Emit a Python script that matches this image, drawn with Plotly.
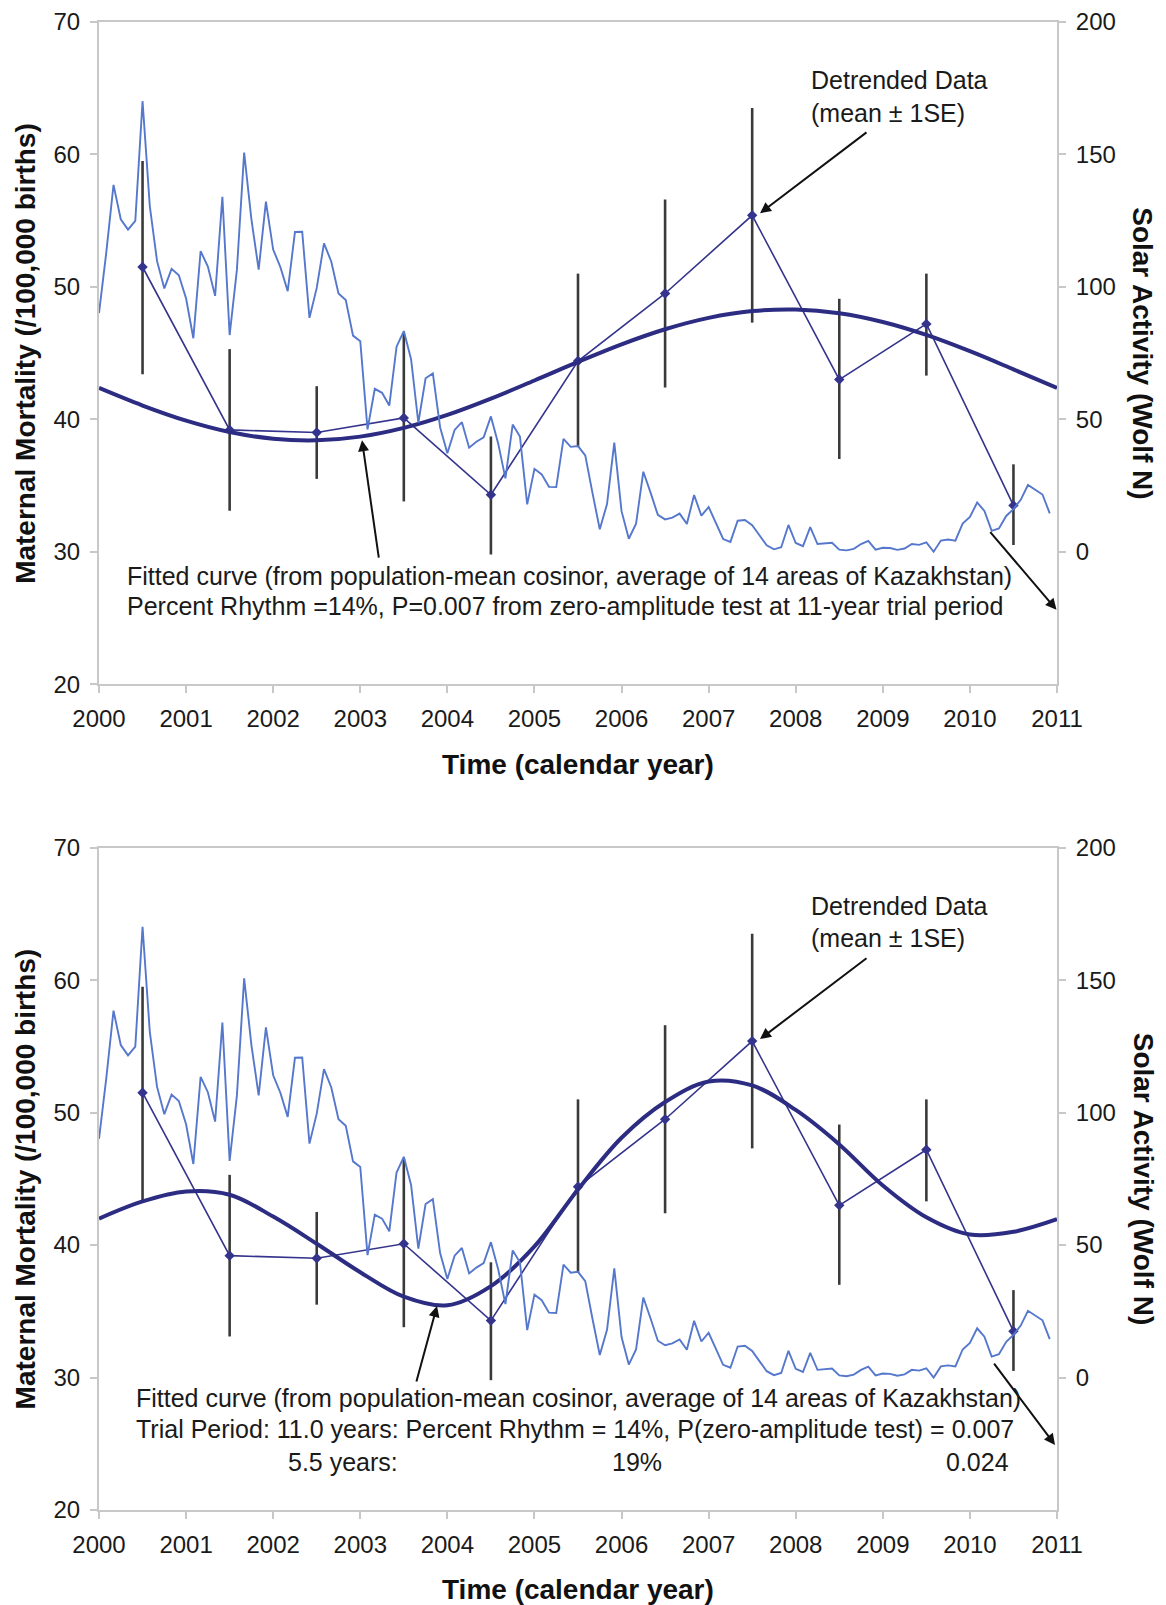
import plotly.graph_objects as go

# ---------------- data ----------------
# Monthly solar activity (Wolf number), Jan 2000 .. Dec 2010
wolf_2000 = [90.1, 112.9, 138.5, 125.5, 121.6, 124.9, 170.1, 130.5, 109.7, 99.4, 106.8, 104.4]
wolf_2001 = [95.6, 80.6, 113.5, 107.7, 96.6, 134.0, 81.8, 106.4, 150.7, 125.5, 106.5, 132.2]
wolf_2002 = [114.1, 107.4, 98.4, 120.7, 120.8, 88.3, 99.6, 116.4, 109.6, 97.5, 95.0, 81.6]
wolf_2003 = [79.5, 46.2, 61.5, 60.0, 55.2, 77.4, 83.3, 72.7, 48.7, 65.5, 67.3, 47.0]
wolf_2004 = [37.2, 46.0, 48.9, 39.3, 41.5, 43.2, 51.1, 40.9, 27.7, 48.0, 43.5, 17.9]
wolf_2005 = [31.3, 29.2, 24.5, 24.4, 42.6, 39.6, 39.9, 36.4, 22.1, 8.5, 18.0, 41.2]
wolf_2006 = [15.3, 4.9, 10.6, 30.2, 22.3, 13.9, 12.2, 12.9, 14.4, 10.5, 21.4, 13.6]
wolf_2007 = [16.9, 10.6, 4.8, 3.7, 11.7, 12.0, 10.0, 6.2, 2.4, 0.9, 1.7, 10.1]
wolf_2008 = [3.3, 2.1, 9.3, 2.9, 3.2, 3.4, 0.8, 0.5, 1.1, 2.9, 4.1, 0.8]
wolf_2009 = [1.5, 1.4, 0.7, 1.2, 2.9, 2.6, 3.5, 0.0, 4.2, 4.6, 4.2, 10.6]
wolf_2010 = [13.1, 18.6, 15.4, 7.9, 8.8, 13.5, 16.1, 19.6, 25.2, 23.5, 21.6, 14.5]
wolf_years = [2000, 2001, 2002, 2003, 2004, 2005, 2006, 2007, 2008, 2009, 2010]
wolf_by_year = [wolf_2000, wolf_2001, wolf_2002, wolf_2003, wolf_2004, wolf_2005,
                wolf_2006, wolf_2007, wolf_2008, wolf_2009, wolf_2010]

# Detrended maternal mortality (mean +/- 1SE), mid-year
mm_years = [2000.5, 2001.5, 2002.5, 2003.5, 2004.5, 2005.5, 2006.5, 2007.5, 2008.5, 2009.5, 2010.5]
mm_mean = [51.5, 39.2, 39.0, 40.1, 34.3, 44.4, 49.5, 55.4, 43.0, 47.2, 33.5]
mm_upper = [59.5, 45.3, 42.5, 46.5, 38.7, 51.0, 56.6, 63.5, 49.1, 51.0, 36.6]
mm_lower = [43.4, 33.1, 35.5, 33.8, 29.8, 37.9, 42.4, 47.3, 37.0, 43.3, 30.5]

# Fitted curves every half year
fit_t = [2000.0, 2000.5, 2001.0, 2001.5, 2002.0, 2002.5, 2003.0, 2003.5, 2004.0, 2004.5,
         2005.0, 2005.5, 2006.0, 2006.5, 2007.0, 2007.5, 2008.0, 2008.5, 2009.0, 2009.5,
         2010.0, 2010.5, 2011.0]
fit_11y = [42.37, 41.04, 39.90, 39.04, 38.53, 38.41, 38.69, 39.35, 40.33, 41.56,
           42.93, 44.33, 45.66, 46.80, 47.66, 48.17, 48.29, 48.01, 47.35, 46.37,
           45.14, 43.77, 42.37]
fit_11y_55y = [42.0, 43.3, 44.05, 43.8, 42.15, 40.1, 37.95, 36.1, 35.45, 36.9,
               39.9, 44.2, 48.1, 50.8, 52.35, 52.05, 50.2, 47.6, 44.5, 42.1,
               40.8, 41.0, 41.95]

x_ticks = [2000, 2001, 2002, 2003, 2004, 2005, 2006, 2007, 2008, 2009, 2010, 2011]
left_ticks = [20, 30, 40, 50, 60, 70]
right_ticks = [0, 50, 100, 150, 200]

# ---------------- derived ----------------
wolf_t = []
wolf_v = []
for yr, vals in zip(wolf_years, wolf_by_year):
    for m, v in enumerate(vals):
        wolf_t.append(yr + m / 12.0)
        wolf_v.append(v)
err_plus = [u - m for u, m in zip(mm_upper, mm_mean)]
err_minus = [m - l for m, l in zip(mm_mean, mm_lower)]

FONT = "Liberation Sans, Arial, sans-serif"
BLUE = "#5577cc"
NAVY = "#34348c"
FIT = "#2c2c82"
AXC = "#c8c8c8"

fig = go.Figure()

def add_panel(xa, yl, yr, fit_vals):
    fig.add_trace(go.Scatter(x=wolf_t, y=wolf_v, xaxis=xa, yaxis=yr, mode="lines",
                             line=dict(color=BLUE, width=1.9), showlegend=False,
                             name="Solar Activity"))
    fig.add_trace(go.Scatter(x=mm_years, y=mm_mean, xaxis=xa, yaxis=yl, mode="lines+markers",
                             line=dict(color=NAVY, width=1.6),
                             marker=dict(symbol="diamond", size=8, color=NAVY),
                             error_y=dict(type="data", array=err_plus, arrayminus=err_minus,
                                          color="#3a3a3a", thickness=2.6, width=0),
                             showlegend=False, name="Detrended Data"))
    fig.add_trace(go.Scatter(x=fit_t, y=fit_vals, xaxis=xa, yaxis=yl, mode="lines",
                             line=dict(color=FIT, width=4, shape="spline", smoothing=1.0),
                             showlegend=False, name="Fitted curve"))

add_panel("x", "y", "y2", fit_11y)
add_panel("x2", "y3", "y4", fit_11y_55y)

tickfont = dict(family=FONT, size=24, color="#1a1a1a")

def xaxis_cfg(anchor):
    return dict(range=[2000, 2011], tickvals=x_ticks, ticks="outside", ticklen=7,
                tickcolor=AXC, tickwidth=2, showline=True, linecolor=AXC, linewidth=2,
                mirror=True, showgrid=False, zeroline=False, tickfont=tickfont,
                anchor=anchor, domain=[0, 1], ticklabelstandoff=5, automargin=False)

def yleft_cfg(domain, anchor):
    return dict(range=[20, 70], tickvals=left_ticks, ticks="outside", ticklen=7,
                tickcolor=AXC, tickwidth=2, showline=True, linecolor=AXC, linewidth=2,
                showgrid=False, zeroline=False, tickfont=tickfont, domain=domain,
                anchor=anchor, ticklabelstandoff=5, automargin=False)

def yright_cfg(over, anchor):
    return dict(range=[-50, 200], tickvals=right_ticks, ticks="outside", ticklen=7,
                tickcolor=AXC, tickwidth=2, showline=True, linecolor=AXC, linewidth=2,
                showgrid=False, zeroline=False, tickfont=tickfont, overlaying=over,
                side="right", anchor=anchor, ticklabelstandoff=5, automargin=False)

top_dom = [0.555, 1.0]
bot_dom = [0.0, 0.4451]

# the page body has an 8px default margin: size the figure to end at the window edge
fig.update_layout(
    width=1158, height=1597,
    margin=dict(l=91, r=109, t=14, b=95, autoexpand=False),
    paper_bgcolor="white", plot_bgcolor="white",
    font=dict(family=FONT, size=24, color="#1a1a1a"),
    xaxis=xaxis_cfg("y"),
    yaxis=yleft_cfg(top_dom, "x"),
    yaxis2=yright_cfg("y", "x"),
    xaxis2=xaxis_cfg("y3"),
    yaxis3=yleft_cfg(bot_dom, "x2"),
    yaxis4=yright_cfg("y3", "x2"),
)

ann = []
tfont = dict(family=FONT, size=25, color="#1a1a1a")
title_font = dict(family=FONT, size=28, color="#111111")

# axis titles
for yc, xt in [(0.7774, 0.50125), (0.2226, -0.05375)]:
    ann.append(dict(xref="paper", yref="paper", x=-0.0766, y=yc, showarrow=False,
                    text="<b>Maternal Mortality (/100,000 births)</b>", textangle=-90,
                    font=title_font, xanchor="center", yanchor="middle"))
    ann.append(dict(xref="paper", yref="paper", x=1.0898, y=yc, showarrow=False,
                    text="<b>Solar Activity (Wolf N)</b>", textangle=90,
                    font=title_font, xanchor="center", yanchor="middle"))
    ann.append(dict(xref="paper", yref="paper", x=0.5, y=xt, showarrow=False,
                    text="<b>Time (calendar year)</b>",
                    font=title_font, xanchor="center", yanchor="middle"))

def txt(xr, yr, x, y, s, xanchor="left"):
    ann.append(dict(xref=xr, yref=yr, x=x, y=y, text=s, showarrow=False, font=tfont,
                    xanchor=xanchor, yanchor="middle"))

def arrow(xr, yr, x, y, ax, ay):
    ann.append(dict(xref=xr, yref=yr, axref=xr, ayref=yr, x=x, y=y, ax=ax, ay=ay,
                    text="", showarrow=True, arrowhead=2, arrowsize=1.1,
                    arrowwidth=2, arrowcolor="#111111"))

# top panel
txt("x", "y", 2008.152, 65.60, "Detrended Data")
txt("x", "y", 2008.152, 63.11, "(mean ± 1SE)")
arrow("x", "y", 2007.59, 55.56, 2008.83, 61.75)
arrow("x", "y", 2003.02, 38.42, 2003.215, 29.44)
arrow("x", "y", 2010.994, 25.62, 2010.219, 31.59)
txt("x", "y", 2000.299, 28.15,
    "Fitted curve (from population-mean cosinor, average of 14 areas of Kazakhstan)")
txt("x", "y", 2000.299, 25.89,
    "Percent Rhythm =14%, P=0.007 from zero-amplitude test at 11-year trial period")

# bottom panel
txt("x2", "y3", 2008.152, 65.58, "Detrended Data")
txt("x2", "y3", 2008.152, 63.17, "(mean ± 1SE)")
arrow("x2", "y3", 2007.59, 55.55, 2008.83, 61.74)
arrow("x2", "y3", 2003.881, 35.40, 2003.64, 29.58)
arrow("x2", "y3", 2010.977, 24.91, 2010.265, 31.17)
txt("x2", "y3", 2000.402, 28.45,
    "Fitted curve (from population-mean cosinor, average of 14 areas of Kazakhstan)")
txt("x2", "y3", 2000.402, 26.11,
    "Trial Period: 11.0 years: Percent Rhythm = 14%, P(zero-amplitude test) = 0.007")
txt("x2", "y3", 2002.147, 23.62, "5.5 years:")
txt("x2", "y3", 2006.178, 23.62, "19%", xanchor="center")
txt("x2", "y3", 2010.472, 23.62, "0.024", xanchor="right")

fig.update_layout(annotations=ann)

fig.write_html("out.html")
